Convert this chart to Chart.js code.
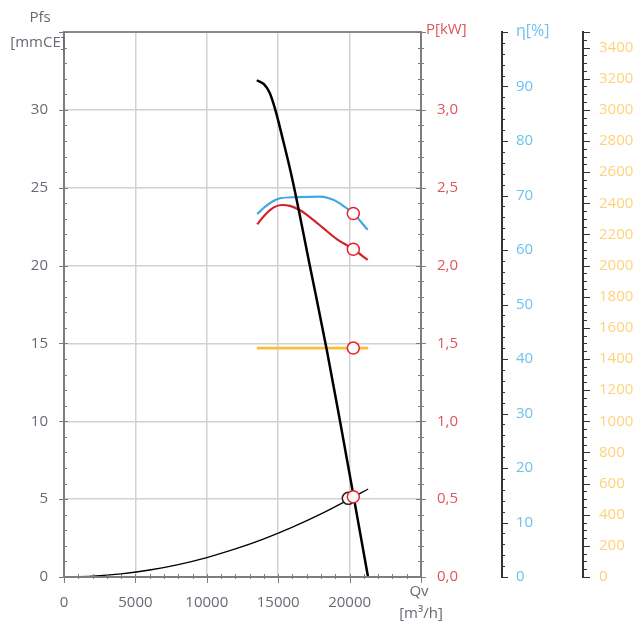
<!DOCTYPE html>
<html>
<head>
<meta charset="utf-8">
<script src="https://cdn.jsdelivr.net/npm/chart.js@4/dist/chart.umd.min.js"></script>
<style>
  html, body { margin: 0; padding: 0; background: #fff; overflow: hidden; }
  #wrap { width: 633px; height: 625px; }
</style>
</head>
<body>
<div id="wrap"><canvas id="fan" width="633" height="625"></canvas></div>
<script>
// fan curve: pressure / power / efficiency / speed against airflow
const PRESSURE_Q   = [13500, 14000, 14400, 14800, 15300, 16000, 17280, 18400, 19330, 20080, 21290];
const PRESSURE_PFS = [31.9, 31.65, 31.1, 30.0, 28.2, 25.5, 19.7, 14.6, 10.0, 6.2, 0];

const SYSTEM_Q   = [0, 2000, 4000, 6000, 8000, 10000, 12000, 14000, 16000, 18000, 20000, 21300];
const SYSTEM_PFS = [0, 0.05, 0.2, 0.45, 0.8, 1.25, 1.8, 2.45, 3.2, 4.05, 5.0, 5.65];

const EFF_Q   = [13530, 14070, 14660, 15130, 16300, 17930, 18860, 19560, 20260, 21270];
const EFF_ETA = [66.6, 67.9, 69.0, 69.5, 69.7, 69.8, 69.2, 68.1, 66.7, 63.7];

const POWER_Q  = [13530, 14070, 14660, 15250, 15830, 16530, 17230, 18160, 19100, 20260, 21270];
const POWER_KW = [2.265, 2.325, 2.372, 2.389, 2.383, 2.355, 2.31, 2.24, 2.17, 2.105, 2.036];

const SPEED_Q   = [13500, 21300];
const SPEED_RPM = [1470, 1470];

// duty point (red) and required point (black)
const DUTY_Q = 20260, DUTY_PFS = 5.15, DUTY_ETA = 66.7, DUTY_KW = 2.105, DUTY_RPM = 1470;
const REQ_Q = 19910, REQ_PFS = 5.05;

const X_LABELS   = [0, 5000, 10000, 15000, 20000];
const PFS_LABELS = [0, 5, 10, 15, 20, 25, 30];
const KW_LABELS  = [0, 0.5, 1, 1.5, 2, 2.5, 3];
const ETA_LABELS = [0, 10, 20, 30, 40, 50, 60, 70, 80, 90];
const RPM_LABELS = [0, 200, 400, 600, 800, 1000, 1200, 1400, 1600, 1800, 2000,
                    2200, 2400, 2600, 2800, 3000, 3200, 3400];

const FONT = { family: "'Open Sans', 'Noto Sans', sans-serif", size: 15 };
const GREY_TXT = "#666a72", RED_TXT = "#e0555a", BLUE_TXT = "#6cc3ec", ORANGE_TXT = "#ffd27a";

const pts = (xs, ys) => xs.map((x, i) => ({ x, y: ys[i] }));
const has = (arr, v) => arr.some(a => Math.abs(a - v) < 1e-6);

const circle = (x, y, axis, color) => ({
  data: [{ x, y }], yAxisID: axis, showLine: false, order: 0,
  pointRadius: 6, pointBackgroundColor: "#fff",
  pointBorderColor: color, pointBorderWidth: 1.5,
});

// tick marks of every axis, drawn from the scales
const TICKS = {
  x:    { minor: 1000, major: 5000, mi: [-3, 2], ma: [-3, 6], color: "#7d7d7d" },
  y:    { minor: 1, major: 5, mi: [0, 3], ma: [-5, 4], color: "#7d7d7d" },
  yP:   { minor: 0.1, major: 0.5, mi: [-3, 3], ma: [-5, 5], color: "#7d7d7d" },
  yEta: { minor: 2, major: 10, mi: [0, 3], ma: [0, 6], color: "#333" },
  yRpm: { minor: 50, major: 200, mi: [0, 4], ma: [0, 7], color: "#333" },
};

const axesPlugin = {
  id: "axesPlugin",
  afterDraw(chart) {
    const ctx = chart.ctx, area = chart.chartArea;
    ctx.save();
    for (const [id, t] of Object.entries(TICKS)) {
      const s = chart.scales[id];
      ctx.strokeStyle = t.color;
      ctx.lineWidth = 2;
      const n = Math.round((s.max - s.min) / t.minor);
      if (id === "x") {
        const y0 = s.top;
        ctx.beginPath(); ctx.moveTo(area.left - 1, y0); ctx.lineTo(area.right, y0); ctx.stroke();
        ctx.lineWidth = 1;
        for (let i = 0; i <= n; i++) {
          const v = s.min + i * t.minor;
          const px = Math.round(s.getPixelForValue(v)) + 0.5;
          const r = (Math.abs(v / t.major - Math.round(v / t.major)) < 1e-6) ? t.ma : t.mi;
          ctx.beginPath(); ctx.moveTo(px, y0 + r[0]); ctx.lineTo(px, y0 + r[1]); ctx.stroke();
        }
        continue;
      }
      const x0 = s.position === "left" ? s.right : s.left;
      const top = s.getPixelForValue(s.max), bot = s.getPixelForValue(s.min);
      ctx.beginPath(); ctx.moveTo(x0, top - 1); ctx.lineTo(x0, bot + 1); ctx.stroke();
      ctx.lineWidth = 1;
      for (let i = 0; i <= n; i++) {
        const v = s.min + i * t.minor;
        const py = Math.round(s.getPixelForValue(v)) + 0.5;
        const r = (Math.abs(v / t.major - Math.round(v / t.major)) < 1e-6 || i === n) ? t.ma : t.mi;
        ctx.beginPath(); ctx.moveTo(x0 + r[0], py); ctx.lineTo(x0 + r[1], py); ctx.stroke();
      }
      ctx.lineWidth = 2;
    }
    // axis titles
    ctx.font = `${FONT.size}px ${FONT.family}`;
    ctx.textBaseline = "middle";
    ctx.textAlign = "center";
    ctx.fillStyle = GREY_TXT;
    ctx.fillText("Pfs", 40, 18);
    ctx.fillText("[mmCE]", 38, 43);
    ctx.fillText("Qv", 419, 592);
    ctx.fillText("[m³/h]", 421, 614);
    ctx.textAlign = "left";
    ctx.fillStyle = RED_TXT;
    ctx.fillText("P[kW]", 426, 30);
    ctx.fillStyle = BLUE_TXT;
    ctx.font = `16px ${FONT.family}`;
    ctx.fillText("η[%]", 516, 31);
    ctx.restore();
  },
};

const fixW = (w) => (s) => { s.width = w; };

new Chart(document.getElementById("fan"), {
  type: "line",
  data: {
    datasets: [
      circle(DUTY_Q, DUTY_PFS, "y", "#e8202a"),
      circle(REQ_Q, REQ_PFS, "y", "#222"),
      circle(DUTY_Q, DUTY_ETA, "yEta", "#e8202a"),
      circle(DUTY_Q, DUTY_KW, "yP", "#e8202a"),
      circle(DUTY_Q, DUTY_RPM, "yRpm", "#e8202a"),
      { data: pts(PRESSURE_Q, PRESSURE_PFS), yAxisID: "y", order: 1,
        borderColor: "#000", borderWidth: 2.5, pointRadius: 0, cubicInterpolationMode: "monotone" },
      { data: pts(SYSTEM_Q, SYSTEM_PFS), yAxisID: "y", order: 1,
        borderColor: "#000", borderWidth: 1.3, pointRadius: 0, cubicInterpolationMode: "monotone" },
      { data: pts(EFF_Q, EFF_ETA), yAxisID: "yEta", order: 2,
        borderColor: "#3eaadf", borderWidth: 2.2, pointRadius: 0, cubicInterpolationMode: "monotone" },
      { data: pts(POWER_Q, POWER_KW), yAxisID: "yP", order: 2,
        borderColor: "#d2222a", borderWidth: 2.2, pointRadius: 0, cubicInterpolationMode: "monotone" },
      { data: pts(SPEED_Q, SPEED_RPM), yAxisID: "yRpm", order: 2,
        borderColor: "#fbbd3a", borderWidth: 2.6, pointRadius: 0 },
    ],
  },
  options: {
    responsive: false, animation: false,
    layout: { padding: { top: 32, left: 0, right: 0, bottom: 0 } },
    plugins: { legend: { display: false }, tooltip: { enabled: false } },
    scales: {
      x: {
        type: "linear", min: 0, max: 25000,
        afterFit: (s) => { s.height = 48; },
        border: { display: false },
        grid: {
          drawTicks: false,
          color: (c) => (c.tick && has([5000, 10000, 15000, 20000], c.tick.value)) ? "#d2d2d2" : "rgba(0,0,0,0)",
          lineWidth: 1.5,
        },
        ticks: {
          stepSize: 1000, autoSkip: false, maxRotation: 0, padding: 17,
          color: GREY_TXT, font: FONT,
          callback: (v) => has(X_LABELS, v) ? String(v) : "",
        },
      },
      y: {
        position: "left", min: 0, max: 35, weight: 0,
        afterFit: fixW(64),
        border: { display: false },
        grid: {
          drawTicks: false,
          color: (c) => {
            const v = c.tick && c.tick.value;
            if (v === 35) return "#8a8a8a";
            return (v > 0 && v % 5 === 0) ? "#d2d2d2" : "rgba(0,0,0,0)";
          },
          lineWidth: (c) => (c.tick && c.tick.value === 35) ? 2 : 1.5,
        },
        ticks: {
          stepSize: 1, autoSkip: false, padding: 16, color: GREY_TXT, font: FONT,
          callback: (v) => has(PFS_LABELS, v) ? String(v) : "",
        },
      },
      yP: {
        position: "right", min: 0, max: 3.5, weight: 0,
        afterFit: fixW(81),
        border: { display: false }, grid: { display: false, drawTicks: false },
        ticks: {
          stepSize: 0.5, autoSkip: false, padding: 16, color: RED_TXT, font: FONT,
          callback: (v) => has(KW_LABELS, v) ? v.toFixed(1).replace(".", ",") : "",
        },
      },
      yEta: {
        position: "right", min: 0, max: 100, weight: 1,
        afterFit: fixW(81),
        border: { display: false }, grid: { display: false, drawTicks: false },
        ticks: {
          stepSize: 10, autoSkip: false, padding: 14, color: BLUE_TXT, font: FONT,
          callback: (v) => has(ETA_LABELS, v) ? String(v) : "",
        },
      },
      yRpm: {
        position: "right", min: 0, max: 3500, weight: 2,
        afterFit: fixW(50),
        border: { display: false }, grid: { display: false, drawTicks: false },
        ticks: {
          stepSize: 200, autoSkip: false, includeBounds: false, padding: 16,
          color: ORANGE_TXT, font: FONT,
          callback: (v) => has(RPM_LABELS, v) ? String(v) : "",
        },
      },
    },
  },
  plugins: [axesPlugin],
});
</script>
</body>
</html>
